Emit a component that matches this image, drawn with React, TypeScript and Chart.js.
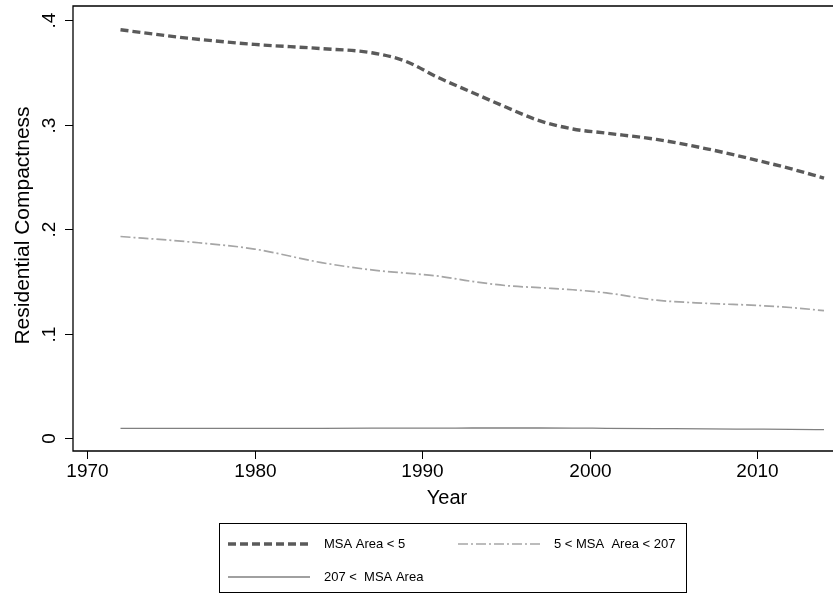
import React, { useEffect, useRef } from "react";
import { Chart, registerables } from "chart.js";

Chart.register(...registerables);

const years = [1972, 1976, 1980, 1984, 1987, 1989, 1991, 1993, 1995, 1997, 1999, 2001, 2004, 2007, 2010, 2012, 2014];
const smallArea = [0.391, 0.383, 0.377, 0.373, 0.369, 0.361, 0.345, 0.331, 0.317, 0.304, 0.296, 0.292, 0.286, 0.277, 0.266, 0.258, 0.249];
const midArea = [0.193, 0.188, 0.181, 0.168, 0.161, 0.158, 0.155, 0.150, 0.146, 0.144, 0.142, 0.139, 0.132, 0.129, 0.127, 0.125, 0.122];
const largeArea = [0.0092, 0.0092, 0.0092, 0.0093, 0.0094, 0.0095, 0.0095, 0.0096, 0.0096, 0.0096, 0.0095, 0.0093, 0.009, 0.0087, 0.0085, 0.0083, 0.008];

const seriesLabels = ["MSA Area < 5", "5 < MSA  Area < 207", "207 <  MSA Area"];
const xTicks = [1970, 1980, 1990, 2000, 2010];
const yTicks = [0, 0.1, 0.2, 0.3, 0.4];
const yTickLabels = ["0", ".1", ".2", ".3", ".4"];
const xTitle = "Year";
const yTitle = "Residential Compactness";

const FONT = "'Liberation Sans', Arial, Helvetica, sans-serif";

export default function App() {
  const ref = useRef<HTMLCanvasElement | null>(null);

  useEffect(() => {
    const canvas = ref.current;
    if (!canvas) return;

    const decor = {
      id: "statadecor",
      afterDraw(chart: any) {
        const ctx = chart.ctx as CanvasRenderingContext2D;
        const a = chart.chartArea;
        const xs = chart.scales.x;
        const ys = chart.scales.y;
        ctx.save();
        // frame
        ctx.strokeStyle = "#000";
        ctx.lineWidth = 1.3;
        ctx.setLineDash([]);
        ctx.beginPath();
        ctx.moveTo(a.right + 2, a.top);
        ctx.lineTo(a.left, a.top);
        ctx.lineTo(a.left, a.bottom);
        ctx.lineTo(a.right + 2, a.bottom);
        ctx.stroke();
        // y ticks
        ctx.lineWidth = 1;
        ctx.fillStyle = "#000";
        ctx.font = `19px ${FONT}`;
        yTicks.forEach((v, i) => {
          const py = Math.round(ys.getPixelForValue(v)) + 0.5;
          ctx.beginPath();
          ctx.moveTo(a.left - 8, py);
          ctx.lineTo(a.left, py);
          ctx.stroke();
          ctx.save();
          ctx.translate(55, py);
          ctx.rotate(-Math.PI / 2);
          ctx.textAlign = "center";
          ctx.textBaseline = "alphabetic";
          ctx.fillText(yTickLabels[i], 0, 0);
          ctx.restore();
        });
        // x ticks
        xTicks.forEach((v) => {
          const px = Math.round(xs.getPixelForValue(v)) + 0.5;
          ctx.beginPath();
          ctx.moveTo(px, a.bottom);
          ctx.lineTo(px, a.bottom + 8);
          ctx.stroke();
          ctx.textAlign = "center";
          ctx.textBaseline = "alphabetic";
          ctx.fillText(String(v), px, 477);
        });
        // titles
        ctx.font = `20px ${FONT}`;
        ctx.textAlign = "center";
        ctx.fillText(xTitle, (a.left + 833) / 2 - 6, 504);
        ctx.save();
        ctx.font = `21px ${FONT}`;
        ctx.translate(29, (a.top + a.bottom) / 2 - 3);
        ctx.rotate(-Math.PI / 2);
        ctx.fillText(yTitle, 0, 0);
        ctx.restore();
        // legend box
        ctx.lineWidth = 1;
        ctx.strokeStyle = "#000";
        ctx.strokeRect(219.5, 523.5, 467, 69);
        const ds = chart.data.datasets;
        const entries = [
          { d: ds[0], x0: 228, x1: 310, tx: 324, y: 544 },
          { d: ds[1], x0: 458, x1: 543, tx: 554, y: 544 },
          { d: ds[2], x0: 228, x1: 310, tx: 324, y: 577 },
        ];
        ctx.font = `13px ${FONT}`;
        ctx.textAlign = "left";
        ctx.textBaseline = "middle";
        entries.forEach((e) => {
          ctx.save();
          ctx.strokeStyle = e.d.borderColor;
          ctx.lineWidth = e.d.borderWidth;
          ctx.setLineDash(e.d.borderDash || []);
          ctx.beginPath();
          ctx.moveTo(e.x0, e.y);
          ctx.lineTo(e.x1, e.y);
          ctx.stroke();
          ctx.restore();
          ctx.fillStyle = "#000";
          ctx.fillText(e.d.label, e.tx, e.y);
        });
        ctx.restore();
      },
    };

    const mk = (vals: number[]) => years.map((x, i) => ({ x, y: vals[i] }));

    const chart = new Chart(canvas, {
      type: "line",
      data: {
        datasets: [
          {
            label: seriesLabels[0],
            data: mk(smallArea),
            borderColor: "#5a5a5a",
            borderWidth: 3.4,
            borderDash: [8, 4],
            pointRadius: 0,
            fill: false,
            cubicInterpolationMode: "monotone",
          },
          {
            label: seriesLabels[1],
            data: mk(midArea),
            borderColor: "#a6a6a6",
            borderWidth: 1.7,
            borderDash: [10, 3, 2, 3],
            pointRadius: 0,
            fill: false,
            cubicInterpolationMode: "monotone",
          },
          {
            label: seriesLabels[2],
            data: mk(largeArea),
            borderColor: "#808080",
            borderWidth: 1.3,
            borderDash: [],
            pointRadius: 0,
            fill: false,
            cubicInterpolationMode: "monotone",
          },
        ],
      },
      options: {
        responsive: false,
        animation: false,
        devicePixelRatio: 1,
        layout: { padding: { left: 73, top: 6, right: 0, bottom: 144 } },
        scales: {
          x: { type: "linear", min: 1969.164, max: 2014.537, display: false },
          y: { type: "linear", min: -0.01245, max: 0.4138, display: false },
        },
        plugins: { legend: { display: false }, tooltip: { enabled: false } },
      },
      plugins: [decor],
    } as any);

    return () => chart.destroy();
  }, []);

  return (
    <div style={{ position: "absolute", left: 0, top: 0, width: 833, height: 595, background: "#fff" }}>
      <canvas ref={ref} width={833} height={595} style={{ display: "block", width: 833, height: 595 }} />
    </div>
  );
}
